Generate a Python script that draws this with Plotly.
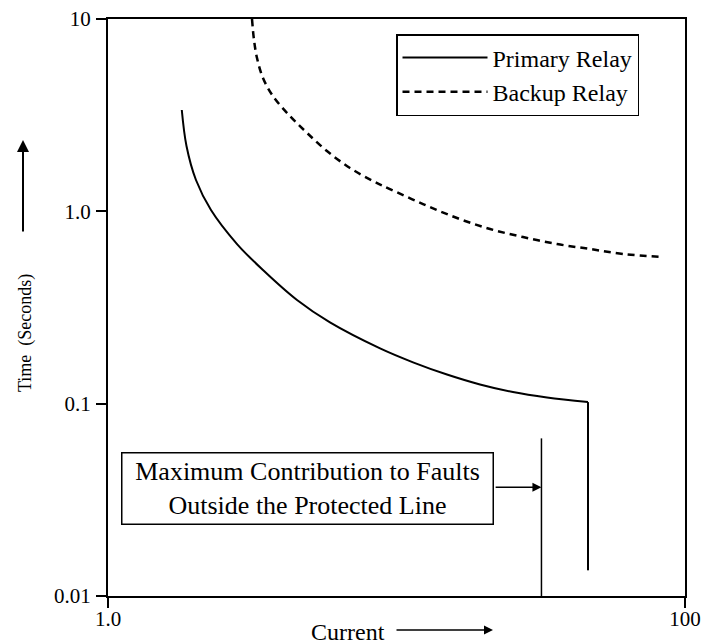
import numpy as np
import plotly.graph_objects as go

# Primary relay characteristic (current multiple, time in s)
primary_current = [1.802, 1.871, 2.018, 2.275, 2.801, 3.445, 4.52, 5.88,
                   8.77, 11.41, 14.96, 19.47, 25.33, 33.24, 46.1]
primary_time = [3.364, 2.186, 1.455, 1.016, 0.676, 0.495, 0.3457, 0.2644,
                0.1937, 0.1640, 0.1417, 0.1258, 0.1149, 0.1077, 0.1019]
# instantaneous cut-off drop of primary relay
primary_drop_current = [46.1, 46.1]
primary_drop_time = [0.1019, 0.0136]

# Backup relay characteristic
backup_current = [3.156, 3.207, 3.285, 3.445, 3.73, 4.27, 4.90, 5.74, 6.90, 8.29, 9.49, 12.36,
                  16.21, 21.10, 27.45, 36.0, 46.8, 61.0, 83.2]
backup_time = [10.0, 7.776, 6.269, 4.933, 3.977, 3.130, 2.555, 2.058, 1.680, 1.438, 1.306, 1.091,
               0.923, 0.809, 0.735, 0.676, 0.637, 0.600, 0.579]

# Maximum contribution to outside faults
max_fault_current = [31.8, 31.8]
max_fault_time = [0.066, 0.01]
arrow_tail_current = 21.8
arrow_time = 0.0368

x_ticks = [1, 100]
x_tick_labels = ["1.0", "100"]
y_ticks = [0.01, 0.1, 1, 10]
y_tick_labels = ["0.01", "0.1", "1.0", "10"]

FONT = "Liberation Serif"

fig = go.Figure()
fig.add_trace(go.Scatter(x=primary_current, y=primary_time, mode="lines",
                         name="Primary Relay", legendgroup="p",
                         line=dict(color="black", width=2, shape="spline", smoothing=1.0)))
fig.add_trace(go.Scatter(x=primary_drop_current, y=primary_drop_time, mode="lines",
                         showlegend=False, legendgroup="p",
                         line=dict(color="black", width=2)))
fig.add_trace(go.Scatter(x=backup_current, y=backup_time, mode="lines",
                         name="Backup Relay",
                         line=dict(color="black", width=2.5, dash="7px,5px", shape="spline", smoothing=1.0)))
fig.add_trace(go.Scatter(x=max_fault_current, y=max_fault_time, mode="lines",
                         showlegend=False, line=dict(color="black", width=1.5)))

annotations = [
    # box text
    dict(text="Maximum Contribution to Faults<br>Outside the Protected Line",
         xref="paper", yref="paper", x=(307 - 108) / 577, y=(596 - 488) / 577,
         xanchor="center", yanchor="middle", showarrow=False,
         font=dict(family=FONT, size=26, color="black"),
         bordercolor="black", borderwidth=1.5, borderpad=0, bgcolor="white",
         width=370, height=70, align="center"),
    # arrow box -> line
    dict(text="", xref="x", yref="y", x=np.log10(max_fault_current[0]), y=np.log10(arrow_time),
         axref="x", ayref="y", ax=np.log10(arrow_tail_current), ay=np.log10(arrow_time),
         showarrow=True, arrowhead=2, arrowsize=1.2, arrowwidth=1.5, arrowcolor="black"),
    # y axis title
    dict(text="Time  (Seconds)", xref="paper", yref="paper", x=(25 - 108) / 577, y=(596 - 333) / 577,
         xanchor="center", yanchor="middle",
         textangle=-90, showarrow=False, font=dict(family=FONT, size=18, color="#000000")),
    dict(text="", xref="paper", yref="paper", x=(23 - 108) / 577, y=(596 - 140) / 577,
         ax=0, ay=93, showarrow=True, arrowhead=2, arrowsize=1.2, arrowwidth=2, arrowcolor="black"),
    # x axis title
    dict(text="Current", xref="paper", yref="paper", x=(348 - 108) / 577, y=(596 - 632) / 577,
         xanchor="center", yanchor="middle",
         showarrow=False, font=dict(family=FONT, size=24, color="black")),
    dict(text="", xref="paper", yref="paper", x=(493 - 108) / 577, y=(596 - 630) / 577,
         ax=-98, ay=0, showarrow=True, arrowhead=2, arrowsize=1.2, arrowwidth=1.5, arrowcolor="black"),
]

fig.update_layout(
    width=703, height=644,
    margin=dict(l=108, r=18, t=19, b=48, autoexpand=False),
    paper_bgcolor="white", plot_bgcolor="white",
    font=dict(family=FONT, color="black"),
    showlegend=True,
    legend=dict(x=(396 - 108) / 577, y=(596 - 34) / 577, xanchor="left", yanchor="top",
                bordercolor="black", borderwidth=1.5, bgcolor="white",
                font=dict(family=FONT, size=24, color="black"),
                tracegroupgap=0, itemwidth=85),
    annotations=annotations,
)
fig.update_xaxes(type="log", range=[0, 2], tickvals=x_ticks, ticktext=x_tick_labels, automargin=False,
                 showgrid=False, zeroline=False, showline=True, linecolor="black", linewidth=2,
                 mirror=True, ticks="outside", ticklen=10, tickwidth=2, tickcolor="black",
                 tickfont=dict(family=FONT, size=21, color="black"), ticklabelstandoff=-7)
fig.update_yaxes(type="log", range=[-2, 1], tickvals=y_ticks, ticktext=y_tick_labels, automargin=False,
                 showgrid=False, zeroline=False, showline=True, linecolor="black", linewidth=2,
                 mirror=True, ticks="outside", ticklen=10, tickwidth=2, tickcolor="black",
                 tickfont=dict(family=FONT, size=21, color="black"), ticklabelstandoff=1)

fig.write_html("out.html")
